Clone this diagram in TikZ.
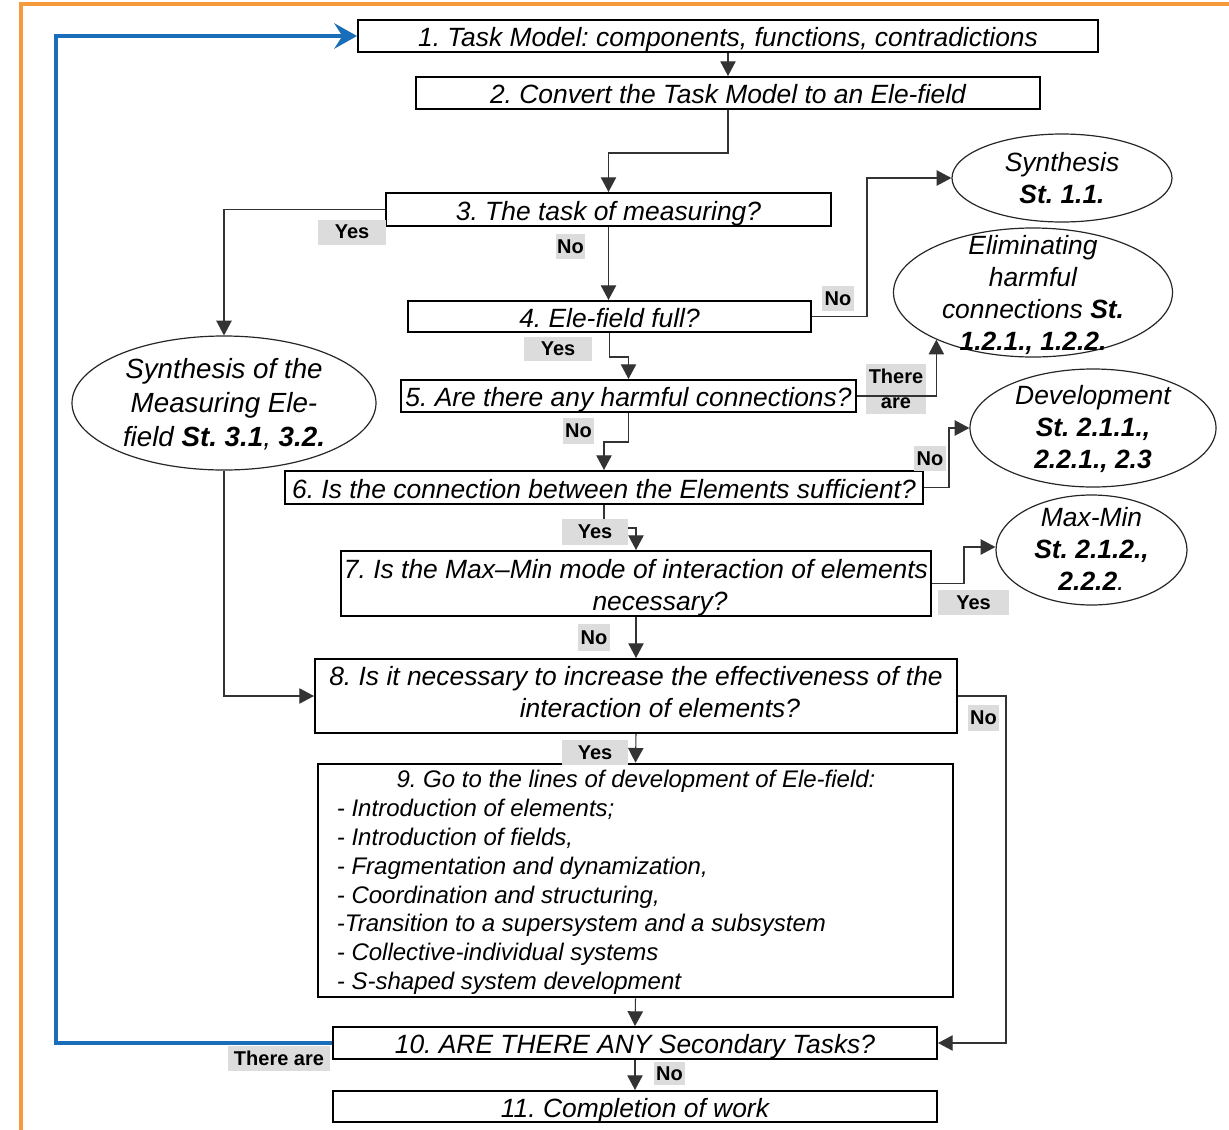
\documentclass[tikz,border=0pt]{standalone}
\usepackage{fontspec}
\setmainfont{Liberation Sans}
\usetikzlibrary{arrows.meta,calc,shapes.geometric}
\frenchspacing

\def\pxu{0.75pt}
\definecolor{frameorange}{HTML}{F79A3C}
\definecolor{loopblue}{HTML}{1A6DB8}
\definecolor{tagfill}{HTML}{DCDCDC}

\begin{document}
\begin{tikzpicture}[x=0.75pt,y=-0.75pt,
  box/.style={draw=black,line width=1.5pt,fill=white,inner sep=0pt,align=center,
    text height=15.8pt,text depth=0pt,
    font=\itshape\fontsize{19.8}{24}\selectfont},
  oval/.style={draw=black!85,line width=0.9pt,ellipse,inner sep=0pt},
  ovaltext/.style={inner sep=0pt,align=center,font=\itshape\fontsize{19.8}{24}\selectfont},
  tag/.style={fill=tagfill,inner sep=0pt,align=center,font=\bfseries\fontsize{15}{18.5}\selectfont},
  conn/.style={draw=black!80,line width=0.8pt},
  arr/.style={conn,-{Triangle[length=11pt,width=11.5pt]}},
  loopback/.style={draw=loopblue,line width=2.6pt,-{Stealth[length=17pt,width=19pt,inset=6pt]}},
  listitem/.style={anchor=base west,inner sep=0pt,font=\itshape\fontsize{18}{21}\selectfont}
]
\useasboundingbox (0,0) rectangle (1229,1129);

% outer frame
\draw[frameorange,line width=2.4pt] (21,1135) -- (21,4) -- (1235,4);

% process boxes
\node[box,minimum width=740*\pxu,minimum height=32*\pxu] (n1) at (728,36)
  {1. Task Model: components, functions, contradictions};
\node[box,minimum width=624*\pxu,minimum height=32*\pxu] (n2) at (728,93)
  {2. Convert the Task Model to an Ele-field};
\node[box,minimum width=445*\pxu,minimum height=33*\pxu] (n3) at (608.5,209.5)
  {3. The task of measuring?};
\node[box,minimum width=403*\pxu,minimum height=31*\pxu] (n4) at (609.5,316.5)
  {4. Ele-field full?};
\node[box,minimum width=455*\pxu,minimum height=32*\pxu] (n5) at (628.5,396)
  {5. Are there any harmful connections?};
\node[box,minimum width=638*\pxu,minimum height=33*\pxu] (n6) at (604,487.5)
  {6. Is the connection between the Elements sufficient?};
\node[box,text height=40.5pt,minimum width=590*\pxu,minimum height=65*\pxu] (n7) at (636,583.5)
  {7. Is the Max--Min mode of interaction of elements\\\hspace*{36pt}necessary?};
\node[box,text height=32.2pt,minimum width=642*\pxu,minimum height=74*\pxu] (n8) at (636,696)
  {8. Is it necessary to increase the effectiveness of the\\\hspace*{36pt}interaction of elements?};
\node[box,line width=2pt,minimum width=635*\pxu,minimum height=233*\pxu] (n9) at (635.5,880.5) {};
\node[box,minimum width=604*\pxu,minimum height=32*\pxu] (n10) at (635,1043)
  {10. ARE THERE ANY Secondary Tasks?};
\node[box,minimum width=604*\pxu,minimum height=31*\pxu] (n11) at (635,1106.5)
  {11. Completion of work};

% contents of box 9
\node[inner sep=0pt,anchor=base,font=\itshape\fontsize{18}{21}\selectfont] (n9h) at ($(n9.north)+(0.5,25)$)
  {9. Go to the lines of development of Ele-field:};
\foreach \t [count=\i] in {{- Introduction of elements;},{- Introduction of fields,},
    {- Fragmentation and dynamization,},{- Coordination and structuring,},
    {-Transition to a supersystem and a subsystem},{- Collective-individual systems},
    {- S-shaped system development}}
  \node[listitem] (n9-\i) at ($(n9.north west)+(20,{54+28.8*(\i-1)})$) {\t};

% standard solutions
\node[oval,minimum width=220*\pxu,minimum height=88*\pxu] (e1) at (1062,178) {};
\node[ovaltext] (t1) at (e1.center) {Synthesis\\\textbf{St. 1.1.}};
\node[oval,minimum width=279*\pxu,minimum height=129*\pxu] (e2) at (1033,292.5) {};
\node[ovaltext] (t2) at ($(e2.center)+(0,2)$) {Eliminating\\harmful\\connections \textbf{St.}\\\textbf{1.2.1., 1.2.2.}};
\node[oval,minimum width=304*\pxu,minimum height=134*\pxu] (e3) at (224,403) {};
\node[ovaltext,font=\itshape\fontsize{20.8}{25.5}\selectfont] (t3) at ($(e3.center)+(0,1)$)
  {Synthesis of the\\Measuring Ele-\\field \textbf{St. 3.1}, \textbf{3.2.}};
\node[oval,minimum width=246*\pxu,minimum height=118*\pxu] (e4) at (1093,428) {};
\node[ovaltext] (t4) at ($(e4.center)+(0,1)$) {Development\\\textbf{St. 2.1.1.,}\\\textbf{2.2.1., 2.3}};
\node[oval,minimum width=191*\pxu,minimum height=110*\pxu] (e5) at (1091.5,550) {};
\node[ovaltext] (t5) at ($(e5.center)+(0,-1)$) {Max-Min\\\textbf{St. 2.1.2.,}\\\textbf{2.2.2}.};

% this tag sits under its connector
\node[tag,minimum width=60*\pxu,minimum height=50*\pxu] (l5) at (896,389) {There\\are};

% connectors
\draw[arr] (n1.south) -- (n2.north);
\draw[arr] (n2.south) -- ++(0,43) -| (n3.north);
\draw[arr] (n3.west) -| (e3.north);
\draw[arr] (n3.south) -- (n3.south |- n4.north);
\draw[arr] (n4.east) -- ++(55,0) |- (e1.west);
\draw[arr] (n4.south) -- ++(0,24) -| (n5.north);
\draw[arr] (n5.east) -| (e2.206);
\draw[arr] (n5.south) -- ++(0,29) -| (n6.north);
\draw[arr] (n6.east) -- ++(25,0) |- (e4.west);
\draw[arr] (n6.south) -- ++(0,23) -| (n7.north);
\draw[arr] (n7.east) -- ++(32,0) |- ($(e5.west)+(0,-3)$);
\draw[arr] (n7.south) -- (n8.north);
\draw[arr] (e3.south) |- (n8.west);
\draw[arr] (n8.east) -- ++(48,0) |- (n10.east);
\draw[arr] (n8.south) -- (n9.north);
\draw[arr] (n9.south) -- (n10.north);
\draw[arr] (n10.south) -- (n11.north);
\draw[loopback] (n10.west) -- ++(-276,0) |- (n1.west);

% branch tags
\node[tag,minimum width=68*\pxu,minimum height=25*\pxu] (l3y) at (352,232) {Yes};
\node[tag,minimum width=29*\pxu,minimum height=25*\pxu] (l3n) at (570.5,246.5) {No};
\node[tag,minimum width=32*\pxu,minimum height=25*\pxu] (l4n) at (838,298.5) {No};
\node[tag,minimum width=68*\pxu,minimum height=24*\pxu] (l4y) at (558,349) {Yes};
\node[tag,minimum width=31*\pxu,minimum height=26*\pxu] (l5n) at (578.5,431) {No};
\node[tag,minimum width=32*\pxu,minimum height=25*\pxu] (l6n) at (930,458.5) {No};
\node[tag,minimum width=66*\pxu,minimum height=26*\pxu] (l6y) at (595,532) {Yes};
\node[tag,minimum width=71*\pxu,minimum height=25*\pxu] (l7y) at (973.5,602.5) {Yes};
\node[tag,minimum width=32*\pxu,minimum height=27*\pxu] (l7n) at (594,637.5) {No};
\node[tag,minimum width=31*\pxu,minimum height=26*\pxu] (l8n) at (983.5,718) {No};
\node[tag,minimum width=66*\pxu,minimum height=25*\pxu] (l8y) at (595,752.5) {Yes};
\node[tag,minimum width=102*\pxu,minimum height=25*\pxu] (l10t) at (279,1058.5) {There are};
\node[tag,minimum width=31*\pxu,minimum height=23*\pxu] (l10n) at (669.5,1073.5) {No};
\end{tikzpicture}
\end{document}
